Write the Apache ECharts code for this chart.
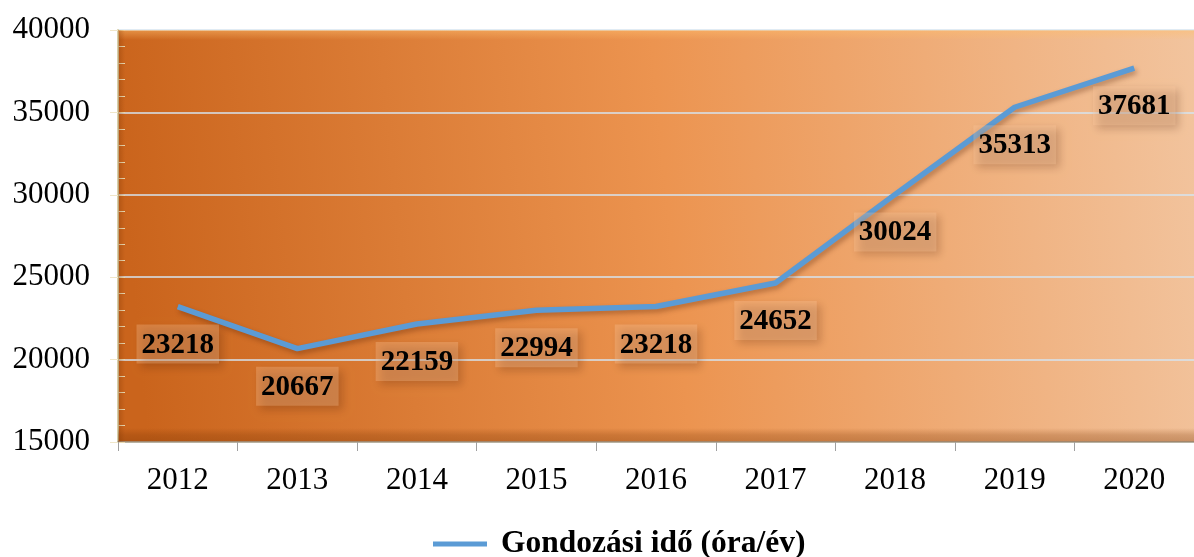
<!DOCTYPE html>
<html>
<head>
<meta charset="utf-8">
<script src="https://cdn.jsdelivr.net/npm/echarts@6/dist/echarts.min.js"></script>
<style>
  html, body { margin: 0; padding: 0; background: #fff; }
  #chart { width: 1194px; height: 557px; }
</style>
</head>
<body>
<div id="chart"></div>
<script>
// Données du graphique
const years = ['2012', '2013', '2014', '2015', '2016', '2017', '2018', '2019', '2020'];
const hours = [23218, 20667, 22159, 22994, 23218, 24652, 30024, 35313, 37681];
const seriesName = 'Gondozási idő (óra/év)';
const yMin = 15000;
const yMax = 40000;
const yStep = 5000;

const font = '"Liberation Serif", "Times New Roman", serif';

// zone du graphique (px)
const plot = { left: 118, top: 30, width: 1076, height: 412 };

const chart = echarts.init(document.getElementById('chart'));

chart.setOption({
    animation: false,
    grid: {
        left: plot.left,
        right: 0,
        top: plot.top,
        bottom: 557 - plot.top - plot.height,
        show: true,
        borderWidth: 0,
        backgroundColor: new echarts.graphic.LinearGradient(0, 0.25, 1, 0, [
            { offset: 0, color: '#ca641c' },
            { offset: 0.5, color: '#ec9450' },
            { offset: 1, color: '#f2c49e' }
        ])
    },
    // effet de biseau autour de la zone
    graphic: [
        {
            type: 'rect', silent: true, z: 1,
            shape: { x: plot.left, y: plot.top + plot.height - 14, width: plot.width, height: 14 },
            style: {
                fill: new echarts.graphic.LinearGradient(0, 0, 0, 1, [
                    { offset: 0, color: 'rgba(120,50,0,0)' },
                    { offset: 0.5, color: 'rgba(120,50,0,0.25)' },
                    { offset: 1, color: 'rgba(120,50,0,0.35)' }
                ])
            }
        },
        {
            type: 'rect', silent: true, z: 1,
            shape: { x: plot.left, y: plot.top, width: plot.width, height: 10 },
            style: {
                fill: new echarts.graphic.LinearGradient(0, 0, 0, 1, [
                    { offset: 0, color: 'rgba(255,190,110,0.5)' },
                    { offset: 1, color: 'rgba(255,190,110,0)' }
                ])
            }
        },
        {
            type: 'rect', silent: true, z: 1,
            shape: { x: plot.left, y: plot.top, width: 7, height: plot.height },
            style: {
                fill: new echarts.graphic.LinearGradient(0, 0, 1, 0, [
                    { offset: 0, color: 'rgba(120,50,0,0.3)' },
                    { offset: 1, color: 'rgba(120,50,0,0)' }
                ])
            }
        }
    ],
    legend: {
        bottom: -8,
        left: 428,
        itemWidth: 54,
        itemHeight: 14,
        itemGap: 14,
        textStyle: {
            fontFamily: font, fontWeight: 'bold', fontSize: 31.5, color: '#000',
            padding: [0, 0, 0, 9]
        },
        data: [{ name: seriesName, icon: 'path://M0,5 L54,5 L54,10 L0,10 Z' }]
    },
    xAxis: {
        type: 'category',
        data: years,
        boundaryGap: true,
        axisLine: { lineStyle: { color: '#b8b2a2', width: 2 } },
        axisTick: { show: true, length: 9, lineStyle: { color: '#a0a0a0' } },
        axisLabel: { fontFamily: font, fontSize: 31, color: '#000', margin: 23 }
    },
    yAxis: [
        {
            type: 'value',
            min: yMin,
            max: yMax,
            interval: yStep,
            axisLine: { show: true, lineStyle: { color: '#d8cfa8', width: 2 } },
            axisTick: { show: true, length: 8, lineStyle: { color: '#f0e6c8' } },
            axisLabel: {
                fontFamily: font, fontSize: 31, color: '#000', margin: 28,
                formatter: v => String(v)
            },
            splitLine: { show: true, lineStyle: { color: '#d6e4f0', width: 1.5 } }
        },
        {
            // petites graduations vers l'intérieur
            type: 'value',
            min: yMin,
            max: yMax,
            interval: yStep,
            position: 'left',
            axisLine: { show: false },
            axisLabel: { show: false },
            splitLine: { show: false },
            axisTick: { show: true, inside: true, length: 7, lineStyle: { color: '#e8d8b0' } },
            minorTick: { show: true, splitNumber: 5, length: 7, lineStyle: { color: '#e8d8b0' } }
        }
    ],
    series: [
        {
            name: seriesName,
            type: 'line',
            data: hours,
            z: 3,
            symbol: 'circle',
            symbolSize: 0.1,
            showSymbol: true,
            lineStyle: {
                color: '#5b9bd5', width: 5.5,
                shadowColor: 'rgba(80,30,0,0.35)', shadowBlur: 5, shadowOffsetX: 2, shadowOffsetY: 3
            },
            itemStyle: { color: '#5b9bd5' },
            label: {
                show: true,
                position: 'bottom',
                distance: 18,
                fontFamily: font,
                fontWeight: 'bold',
                fontSize: 29,
                color: '#000',
                backgroundColor: 'rgba(255,205,160,0.28)',
                padding: [6, 5, 4, 5],
                shadowColor: 'rgba(60,20,0,0.75)',
                shadowBlur: 8,
                shadowOffsetX: 4,
                shadowOffsetY: 4
            }
        }
    ]
});
</script>
</body>
</html>
